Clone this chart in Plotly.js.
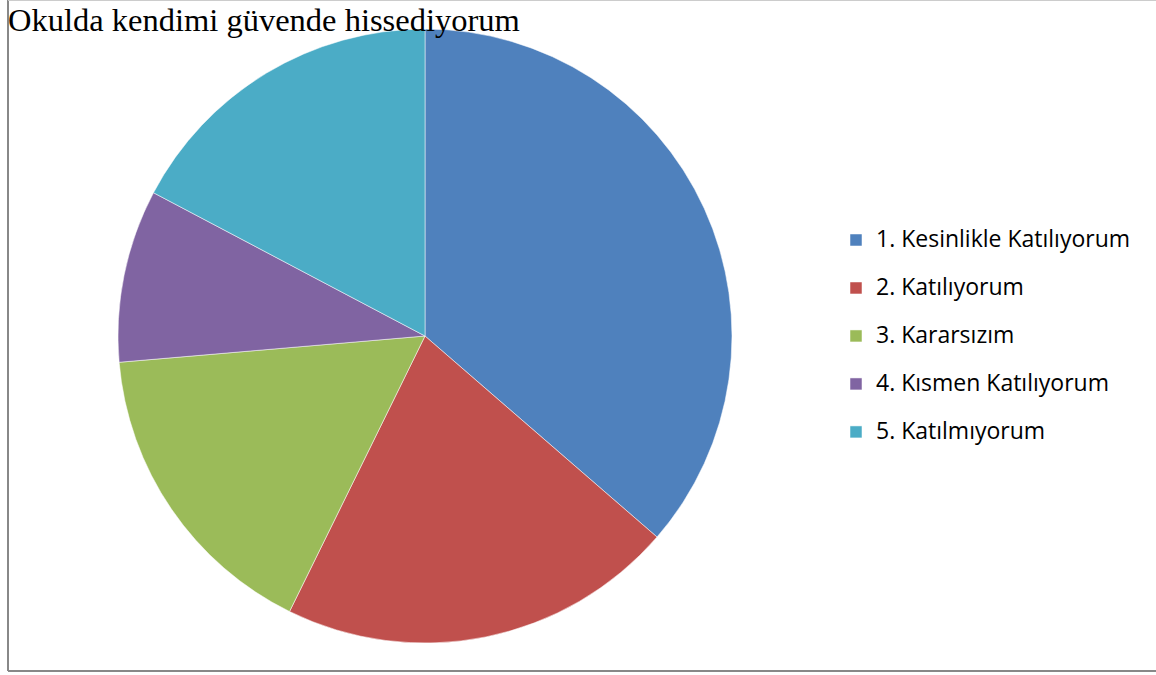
<!DOCTYPE html>
<html>
<head>
<meta charset="utf-8">
<script src="https://cdn.plot.ly/plotly-3.0.1.min.js"></script>
<style>html,body{margin:0;padding:0;background:#fff;} #chart{width:1156px;height:675px;}</style>
</head>
<body>
<div id="chart"></div>
<script>
const categories = ["1. Kesinlikle Katılıyorum", "2. Katılıyorum", "3. Kararsızım", "4. Kısmen Katılıyorum", "5. Katılmıyorum"];
const values = [40, 23, 18, 10, 19];
const colors = ["#4F81BD", "#C0504D", "#9BBB59", "#8064A2", "#4BACC6"];
const chartTitle = "Okulda kendimi güvende hissediyorum";

const W = 1156, H = 675;
const cx = 425, cy = 336, R = 307;

const trace = {
  type: 'pie',
  labels: categories.map(c => '<span style="font-size:23px;baseline-shift:6px">' + c + '</span>'),
  values: values,
  sort: false,
  direction: 'clockwise',
  rotation: 0,
  textinfo: 'none',
  hoverinfo: 'label+value+percent',
  marker: {colors: colors, line: {color: 'rgba(255,255,255,0.5)', width: 1}},
  domain: {x: [(cx - R) / W, (cx + R) / W], y: [(H - cy - R) / H, (H - cy + R) / H]}
};

const layout = {
  width: W, height: H,
  margin: {l: 0, r: 0, t: 0, b: 0},
  paper_bgcolor: '#ffffff',
  title: {
    text: chartTitle,
    font: {family: 'Liberation Serif, Times New Roman, serif', size: 32.5, color: '#000'},
    x: 8 / W, xref: 'container', xanchor: 'left',
    y: 1 - 19.5 / H, yref: 'container', yanchor: 'middle'
  },
  showlegend: true,
  legend: {
    x: 836 / W, xanchor: 'left',
    y: (H - 336) / H, yanchor: 'middle',
    font: {family: 'Open Sans, Noto Sans, sans-serif', size: 34.6, color: '#000'},
    bgcolor: 'rgba(0,0,0,0)',
    traceorder: 'normal'
  },
  shapes: [
    {type: 'line', xref: 'paper', yref: 'paper', x0: 8 / W, x1: 8 / W, y0: 4 / H, y1: 1, line: {color: '#888', width: 2}},
    {type: 'line', xref: 'paper', yref: 'paper', x0: 8 / W, x1: 1, y0: 4 / H, y1: 4 / H, line: {color: '#888', width: 2}},
    {type: 'line', xref: 'paper', yref: 'paper', x0: 8 / W, x1: 1, y0: 1 - 0.5 / H, y1: 1 - 0.5 / H, line: {color: '#ccc', width: 1}}
  ]
};

Plotly.newPlot('chart', [trace], layout, {displayModeBar: false, staticPlot: true});
</script>
</body>
</html>
